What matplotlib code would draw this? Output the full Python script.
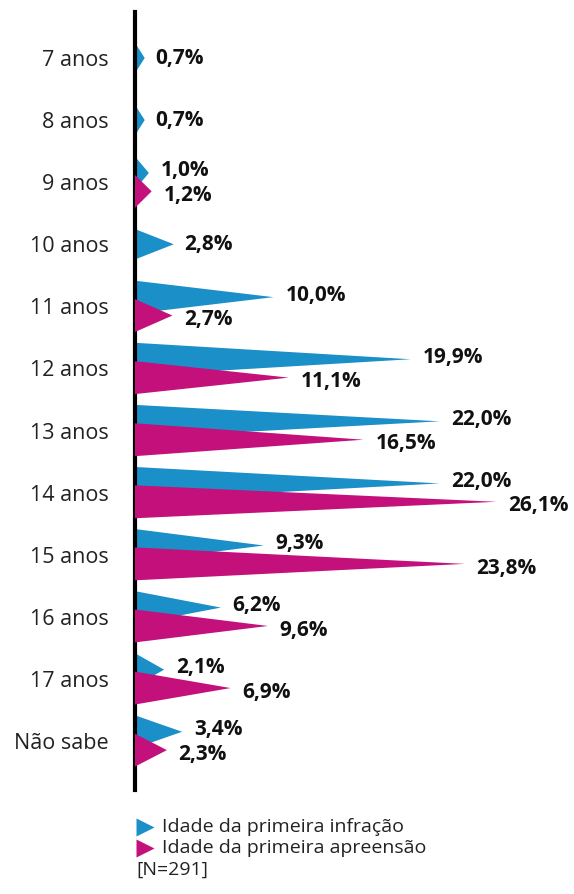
import matplotlib
matplotlib.use("Agg")
import matplotlib.pyplot as plt

plt.rcParams['font.family'] = ['Open Sans', 'DejaVu Sans']

categories = ['7 anos', '8 anos', '9 anos', '10 anos', '11 anos', '12 anos',
              '13 anos', '14 anos', '15 anos', '16 anos', '17 anos', 'Não sabe']
infracao = [0.7, 0.7, 1.0, 2.8, 10.0, 19.9, 22.0, 22.0, 9.3, 6.2, 2.1, 3.4]
apreensao = [None, None, 1.2, None, 2.7, 11.1, 16.5, 26.1, 23.8, 9.6, 6.9, 2.3]
legend_labels = ['Idade da primeira infração', 'Idade da primeira apreensão']
note = '[N=291]'

blue = '#1b8fc8'
magenta = '#c4107b'

W, H = 574, 894
fig = plt.figure(figsize=(W / 100, H / 100), dpi=100)
# axes: left edge at the black line, rows 62 px apart
ax = fig.add_axes([135 / W, 1 - 790 / H, 439 / W, 778 / H])
ax.set_xlim(0, 439 / 13.85)
ax.set_ylim(11.79, -0.741)

half = 0.265   # half height of a triangle (row units)
off = 0.148    # shift of each triangle when a row has two

def fmt(v):
    return f"{v:.1f}".replace('.', ',') + '%'

lab = dict(textcoords='offset points', ha='left', va='center',
           fontsize=15, fontweight='bold', color='#111111')

for i, (a, b) in enumerate(zip(infracao, apreensao)):
    if b is None:
        ax.fill([0, a, 0], [i - 0.245, i, i + 0.245], color=blue, lw=0, zorder=2)
        ax.annotate(fmt(a), (a, i), xytext=(7.5, 0), **lab)
        continue
    yb, ym = i - off, i + off
    ax.fill([0, a, 0], [yb - half, yb, yb + half], color=blue, lw=0, zorder=2)
    ax.fill([0, b, 0], [ym - half, ym, ym + half], color=magenta, lw=0, zorder=3)
    ax.annotate(fmt(a), (a, yb), xytext=(8.5, 1.5), **lab)
    ax.annotate(fmt(b), (b, ym), xytext=(8.5, -3), **lab)

ax.set_yticks(range(len(categories)))
ax.set_yticklabels(categories, fontsize=15.5, color='#222222')
ax.tick_params(axis='y', length=0, pad=19)
ax.set_xticks([])
for s in ['top', 'right', 'bottom']:
    ax.spines[s].set_visible(False)
ax.spines['left'].set_linewidth(3)
ax.spines['left'].set_color('black')

# legend drawn in pixel coordinates of the figure
lg = fig.add_axes([0, 0, 1, 1], facecolor='none')
lg.set_xlim(0, W)
lg.set_ylim(H, 0)
lg.axis('off')
for y, c, t in zip([827, 848], [blue, magenta], legend_labels):
    lg.plot([145], [y], ls='', marker='>', markersize=13, color=c, mec='none')
    lg.text(162, y, t, fontsize=14, va='center', ha='left', color='#222222')
lg.text(136, 870, note, fontsize=14, va='center', ha='left', color='#222222')

fig.savefig('out.png', dpi=100, facecolor='white')
